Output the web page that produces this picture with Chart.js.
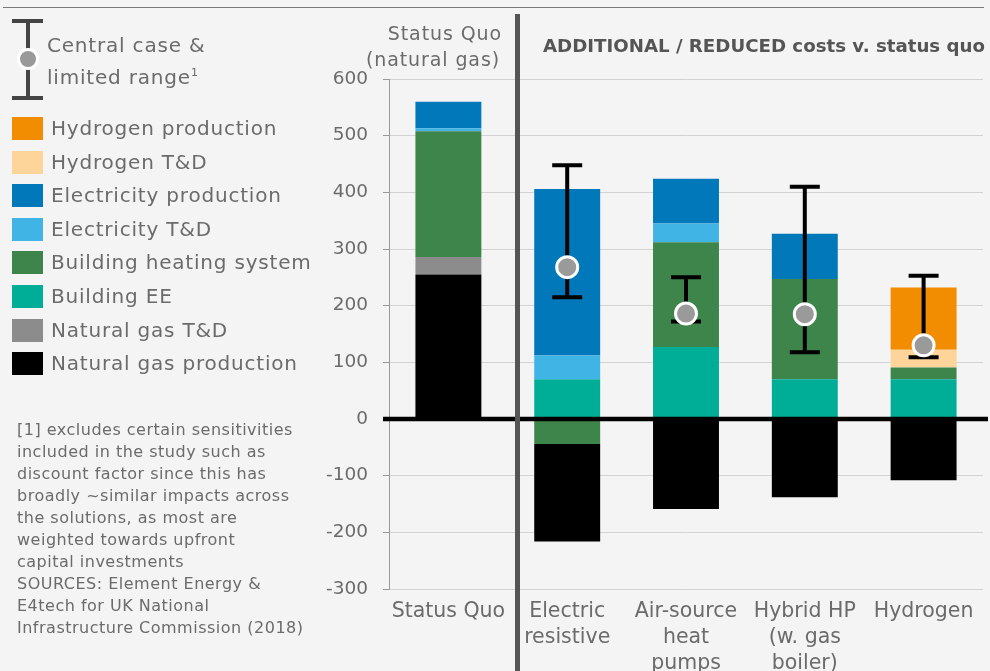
<!DOCTYPE html>
<html>
<head>
<meta charset="utf-8">
<script src="https://cdn.jsdelivr.net/npm/chart.js@4.4.1/dist/chart.umd.min.js"></script>
<style>
  body { margin: 0; background: #f4f4f4; font-family: "DejaVu Sans", sans-serif; color: #6b6b6b; }
  #wrap { position: relative; width: 990px; height: 671px; overflow: hidden; background: #f4f4f4; }
  #chart { position: absolute; left: 0; top: 0; }
  .topline { position: absolute; left: 3px; top: 7px; width: 981px; height: 1px; background: #7a7a7a; }
  .divider { position: absolute; left: 515px; top: 14px; width: 5px; height: 660px; background: #555; }
  .hdr { position: absolute; font-size: 19px; letter-spacing: 0.9px; color: #6b6b6b; text-align: right; width: 180px; line-height: 26px; white-space: nowrap; }
  .hdr2 { position: absolute; left: 543px; top: 35px; font-size: 18.2px; font-weight: bold; color: #555; white-space: nowrap; }
  .legend { position: absolute; left: 0; top: 0; }
  .item { position: absolute; left: 12px; height: 24px; white-space: nowrap; }
  .item .sw { position: absolute; left: 0; top: 0; width: 31px; height: 23px; }
  .item span { position: absolute; left: 39px; top: -1px; font-size: 20px; letter-spacing: 0.8px; line-height: 24px; }
  .eb-v { position: absolute; left: 26px; top: 21px; width: 4px; height: 77px; background: #444; }
  .eb-c { position: absolute; left: 12px; width: 31px; height: 4px; background: #444; }
  .eb-dot { position: absolute; left: 17px; top: 48px; width: 16px; height: 16px; border-radius: 50%; background: #999; border: 3px solid #fff; }
  .eb-txt { position: absolute; left: 47px; top: 32px; font-size: 20px; letter-spacing: 0.8px; line-height: 27px; white-space: nowrap; }
  .note { position: absolute; left: 17px; top: 419px; font-size: 16px; letter-spacing: 0.5px; line-height: 22px; white-space: nowrap; }
</style>
</head>
<body>
<div id="wrap">
  <canvas id="chart" width="990" height="671"></canvas>
  <div class="topline"></div>
  <div class="divider"></div>
  <div class="hdr" style="left:322px;top:20px">Status Quo</div>
  <div class="hdr" style="left:320px;top:46px">(natural gas)</div>
  <div class="hdr2">ADDITIONAL / REDUCED costs v. status quo</div>
  <div class="legend" id="legend">
    <div class="eb-v"></div>
    <div class="eb-c" style="top:19px"></div>
    <div class="eb-c" style="top:96px"></div>
    <div class="eb-dot"></div>
    <div class="eb-txt">Central case &amp;<br>limited range<sup style="font-size:11px">1</sup></div>
  </div>
  <div class="note">[1] excludes certain sensitivities<br>included in the study such as<br>discount factor since this has<br>broadly ~similar impacts across<br>the solutions, as most are<br>weighted towards upfront<br>capital investments<br>SOURCES: Element Energy &amp;<br>E4tech for UK National<br>Infrastructure Commission (2018)</div>
</div>
<script>
// categories (multi-line tick labels)
const categories = [['Status Quo'], ['Electric', 'resistive'], ['Air-source', 'heat', 'pumps'], ['Hybrid HP', '(w. gas', 'boiler)'], ['Hydrogen']];

// cost components, £/yr per household
const ngProduction     = [255, -172, -159, -138, -105];
const ngTD             = [31, 0, 0, 0, 0];
const buildingEE       = [0, 70, 127, 70, 70];
const heatingSystem    = [222, 0, 185, 177, 21];
const heatingReduced   = [0, -44, 0, 0, 0];
const elecTD           = [5, 42, 33, 0, 0];
const elecProduction   = [47, 294, 79, 80, 0];
const elecProdReduced  = [0, 0, 0, 0, -3];
const h2TD             = [0, 0, 0, 0, 31];
const h2Production     = [0, 0, 0, 0, 110];

// central case & limited range
const centralCase = [null, 268, 186, 185, 130];
const rangeLow    = [null, 215, 172, 118, 109];
const rangeHigh   = [null, 448, 250, 410, 253];

const yTicks = [600, 500, 400, 300, 200, 100, 0, -100, -200, -300];

const legendLabels = ['Hydrogen production', 'Hydrogen T&D', 'Electricity production', 'Electricity T&D', 'Building heating system', 'Building EE', 'Natural gas T&D', 'Natural gas production'];
const legendColors = ['#f28c00', '#fdd59b', '#0078b9', '#41b4e6', '#3e854b', '#00ae98', '#8c8c8c', '#000000'];
const colorOf = Object.fromEntries(legendLabels.map((l, i) => [l, legendColors[i]]));

// legend (left panel)
const legend = document.getElementById('legend');
legendLabels.forEach((label, i) => {
    const d = document.createElement('div');
    d.className = 'item';
    d.style.top = (117 + i * 33.6) + 'px';
    d.innerHTML = `<div class="sw" style="background:${legendColors[i]}"></div><span></span>`;
    d.querySelector('span').textContent = label;
    legend.appendChild(d);
});

const bar = (label, data, color) => ({ label, data, backgroundColor: color, borderWidth: 0, barPercentage: 0.555, categoryPercentage: 1 });

// negative parts come first so they sit next to the zero line
const datasets = [
    {
        type: 'line', label: 'Central case', data: centralCase, showLine: false,
        pointRadius: 10.5, pointBackgroundColor: '#9a9a9a', pointBorderColor: '#ffffff', pointBorderWidth: 3
    },
    bar('Building heating system (reduced)', heatingReduced, colorOf['Building heating system']),
    bar('Electricity production (reduced)', elecProdReduced, colorOf['Electricity production']),
    bar('Natural gas production', ngProduction, colorOf['Natural gas production']),
    bar('Natural gas T&D', ngTD, colorOf['Natural gas T&D']),
    bar('Building EE', buildingEE, colorOf['Building EE']),
    bar('Building heating system', heatingSystem, colorOf['Building heating system']),
    bar('Electricity T&D', elecTD, colorOf['Electricity T&D']),
    bar('Electricity production', elecProduction, colorOf['Electricity production']),
    bar('Hydrogen T&D', h2TD, colorOf['Hydrogen T&D']),
    bar('Hydrogen production', h2Production, colorOf['Hydrogen production'])
];

// whiskers under the central points + thick zero line
const rangePlugin = {
    id: 'rangePlugin',
    beforeDatasetDraw(chart, args) {
        if (args.index !== 0) return;
        const ctx = chart.ctx, xs = chart.scales.x, ys = chart.scales.y;
        ctx.save();
        ctx.strokeStyle = '#000';
        ctx.lineWidth = 4.5;
        ctx.beginPath();
        ctx.moveTo(383, ys.getPixelForValue(0));
        ctx.lineTo(988, ys.getPixelForValue(0));
        ctx.stroke();
        ctx.lineWidth = 4;
        centralCase.forEach((c, i) => {
            if (c == null) return;
            const px = xs.getPixelForValue(i);
            const lo = ys.getPixelForValue(rangeLow[i]);
            const hi = ys.getPixelForValue(rangeHigh[i]);
            ctx.beginPath();
            ctx.moveTo(px, lo); ctx.lineTo(px, hi);
            ctx.moveTo(px - 15, lo); ctx.lineTo(px + 15, lo);
            ctx.moveTo(px - 15, hi); ctx.lineTo(px + 15, hi);
            ctx.stroke();
        });
        ctx.restore();
    }
};

new Chart(document.getElementById('chart'), {
    type: 'bar',
    data: { labels: categories, datasets },
    plugins: [rangePlugin],
    options: {
        responsive: false,
        animation: false,
        layout: { autoPadding: false, padding: { left: 0, top: 79, right: 7, bottom: 0 } },
        plugins: { legend: { display: false }, tooltip: { enabled: false } },
        scales: {
            x: {
                stacked: true,
                grid: { display: false, drawTicks: false },
                border: { display: false },
                ticks: { color: '#6b6b6b', font: { family: 'DejaVu Sans', size: 20.5, lineHeight: 1.27 }, padding: 10, maxRotation: 0, autoSkip: false },
                afterFit: s => { s.height = 82; s.paddingLeft = 0; s.paddingRight = 0; }
            },
            y: {
                stacked: true,
                min: -300, max: 600,
                afterBuildTicks: s => { s.ticks = yTicks.map(v => ({ value: v })); },
                grid: { color: '#d2d2d2', tickLength: 6, tickColor: '#999' },
                border: { color: '#999' },
                ticks: { color: '#6b6b6b', font: { family: 'DejaVu Sans', size: 18.5 }, padding: 15 },
                afterFit: s => { s.width = 389; }
            }
        }
    }
});
</script>
</body>
</html>
